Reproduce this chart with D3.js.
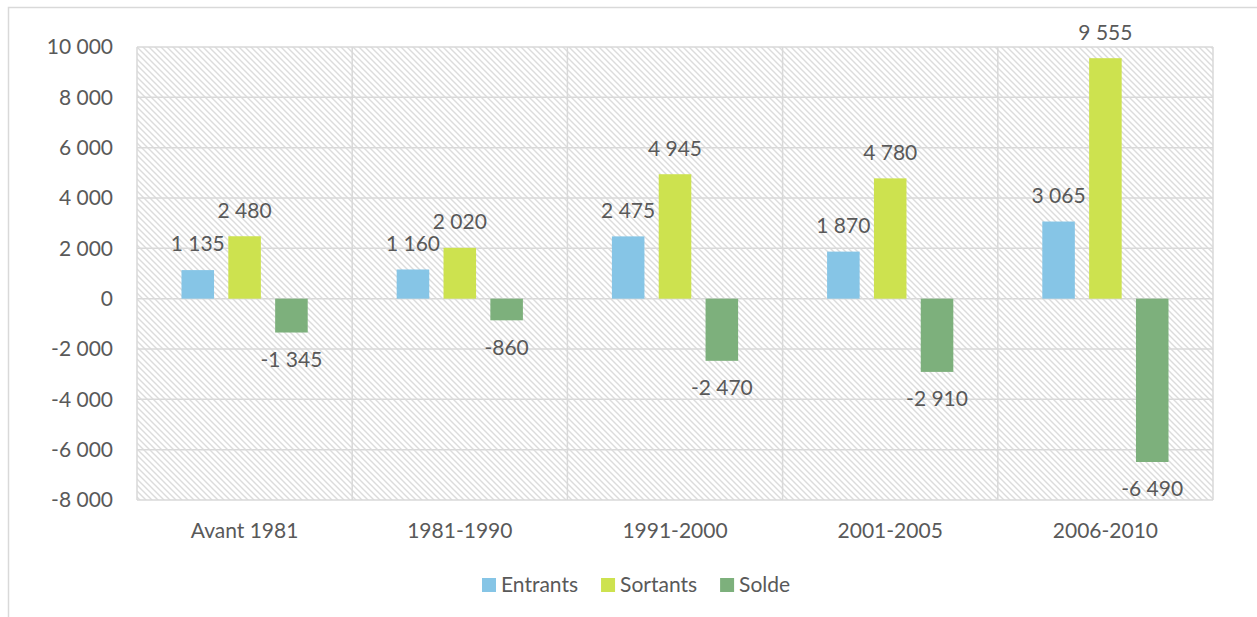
<!DOCTYPE html>
<html>
<head>
<meta charset="utf-8">
<script src="https://cdn.jsdelivr.net/npm/d3@7"></script>
<style>
  body { margin: 0; background: #fff; }
  text { font-family: Lato, "Open Sans", sans-serif; fill: #595959; }
</style>
</head>
<body>
<div class="canva"></div>
<script>
// data
const categories = ['Avant 1981', '1981-1990', '1991-2000', '2001-2005', '2006-2010'];
const seriesNames = ['Entrants', 'Sortants', 'Solde'];
const entrants = [1135, 1160, 2475, 1870, 3065];
const sortants = [2480, 2020, 4945, 4780, 9555];
const solde = [-1345, -860, -2470, -2910, -6490];
const yTicks = [-8000, -6000, -4000, -2000, 0, 2000, 4000, 6000, 8000, 10000];
const colors = ['#86c5e6', '#cde24f', '#7db07c'];

const values = [entrants, sortants, solde];
const rows = [];
categories.forEach((c, i) => {
  seriesNames.forEach((s, j) => rows.push({ cat: c, series: s, value: values[j][i], k: j }));
});

const W = 1257, H = 617;
const pLeft = 137, pRight = 1213, pTop = 47, pBottom = 500;
const fontSize = 21;

const fr = d3.formatLocale({ decimal: ',', thousands: ' ', grouping: [3], currency: ['', ''], minus: '-' });
const fmt = fr.format(',');

const svg = d3.select('.canva').append('svg')
  .attr('width', W)
  .attr('height', H);

// hatch pattern
const defs = svg.append('defs');
const pat = defs.append('pattern')
  .attr('id', 'hatch')
  .attr('patternUnits', 'userSpaceOnUse')
  .attr('width', 6)
  .attr('height', 6);
pat.append('rect').attr('width', 6).attr('height', 6).attr('fill', '#fff');
pat.append('path')
  .attr('d', 'M0,0 L6,6 M-1,5 L1,7 M5,-1 L7,1')
  .attr('stroke', '#dcdcdc')
  .attr('stroke-width', 1.4);

// outer chart border
svg.append('rect')
  .attr('x', 8.5).attr('y', 7.5)
  .attr('width', 1400).attr('height', 700)
  .attr('fill', 'none')
  .attr('stroke', '#d9d9d9')
  .attr('stroke-width', 1.5);

const x = d3.scaleBand().domain(categories).range([pLeft, pRight]);
const x1 = d3.scaleBand().domain(seriesNames).range([0, x.bandwidth()])
  .paddingInner(0.305).paddingOuter(0.95);
const y = d3.scaleLinear().domain([-8000, 10000]).range([pBottom, pTop]);

// plot area
svg.append('rect')
  .attr('x', pLeft).attr('y', pTop)
  .attr('width', pRight - pLeft).attr('height', pBottom - pTop)
  .attr('fill', 'url(#hatch)');

// grid
svg.append('g').selectAll('line').data(yTicks).join('line')
  .attr('x1', pLeft).attr('x2', pRight)
  .attr('y1', d => y(d)).attr('y2', d => y(d))
  .attr('stroke', '#d9d9d9').attr('stroke-width', 1.5);

svg.append('g').selectAll('line').data(categories.concat(['end'])).join('line')
  .attr('x1', (d, i) => i < categories.length ? x(d) : pRight)
  .attr('x2', (d, i) => i < categories.length ? x(d) : pRight)
  .attr('y1', pTop).attr('y2', pBottom)
  .attr('stroke', '#d9d9d9').attr('stroke-width', 1.5);

// y axis
const yAxis = svg.append('g')
  .attr('transform', `translate(${pLeft},0)`)
  .call(d3.axisLeft(y).tickValues(yTicks).tickSize(0).tickPadding(24).tickFormat(fmt));
yAxis.select('.domain').remove();
yAxis.selectAll('text')
  .style('font-size', fontSize + 'px')
  .style('font-family', 'Lato, sans-serif')
  .attr('fill', '#595959');

// x axis
const xAxis = svg.append('g')
  .attr('transform', `translate(0,${pBottom})`)
  .call(d3.axisBottom(x).tickSize(0).tickPadding(23));
xAxis.select('.domain').remove();
xAxis.selectAll('text')
  .style('font-size', fontSize + 'px')
  .style('font-family', 'Lato, sans-serif')
  .attr('fill', '#595959');

// bars
svg.append('g').selectAll('rect').data(rows).join('rect')
  .attr('x', d => x(d.cat) + x1(d.series))
  .attr('width', x1.bandwidth())
  .attr('y', d => y(Math.max(0, d.value)))
  .attr('height', d => Math.abs(y(d.value) - y(0)))
  .attr('fill', d => colors[d.k]);

// data labels
svg.append('g').selectAll('text').data(rows).join('text')
  .attr('x', d => x(d.cat) + x1(d.series) + x1.bandwidth() / 2)
  .attr('y', d => d.value >= 0 ? y(d.value) - 26 : y(d.value) + 27)
  .attr('dy', '0.35em')
  .attr('text-anchor', 'middle')
  .style('font-size', fontSize + 'px')
  .text(d => fmt(d.value));

// legend
const legend = svg.append('g').attr('transform', 'translate(482,585)');
let lx = 0;
seriesNames.forEach((s, i) => {
  const g = legend.append('g').attr('transform', `translate(${lx},0)`);
  g.append('rect').attr('x', 0).attr('y', -7).attr('width', 14).attr('height', 14).attr('fill', colors[i]);
  const t = g.append('text').attr('x', 19).attr('dy', '0.35em')
    .style('font-size', fontSize + 'px').text(s);
  lx += 19 + t.node().getComputedTextLength() + 23;
});
</script>
</body>
</html>
